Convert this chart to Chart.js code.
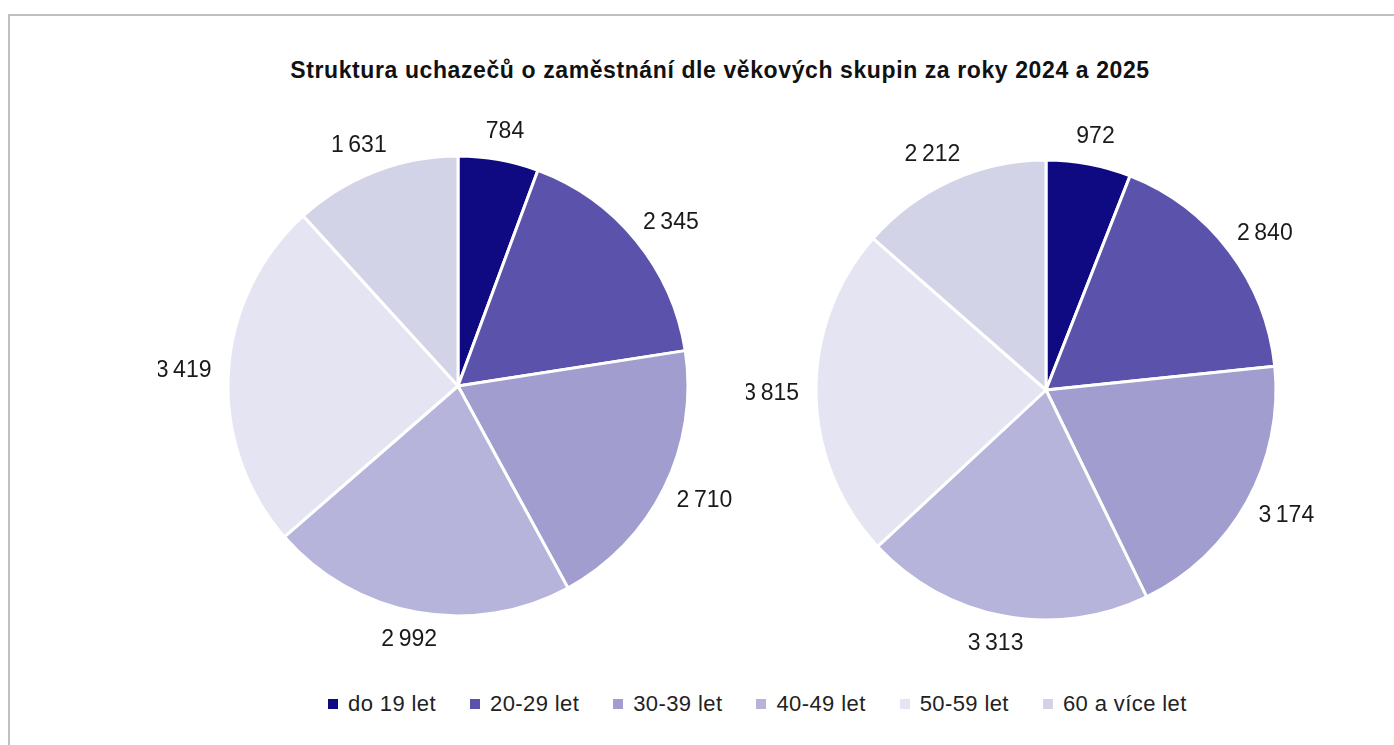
<!DOCTYPE html>
<html><head><meta charset="utf-8">
<script src="https://cdn.jsdelivr.net/npm/chart.js@4/dist/chart.umd.min.js"></script>
<style>
html,body{margin:0;padding:0;background:#fff;width:1394px;height:745px;overflow:hidden;}
#frame{position:absolute;left:8px;top:14px;width:1400px;height:760px;border:2px solid #c0c0c0;box-sizing:border-box;}
#title{position:absolute;left:0;width:1440px;top:57px;text-align:center;font-family:"Liberation Sans",sans-serif;font-weight:bold;font-size:23px;letter-spacing:0.6px;color:#111;}
canvas{position:absolute;}
#legend{position:absolute;top:691px;left:328px;display:flex;align-items:center;font-family:"Liberation Sans",sans-serif;font-size:22px;letter-spacing:0.4px;color:#222;}
#legend .it{display:flex;align-items:center;margin-right:34px;}
#legend .sw{width:10px;height:10px;margin-right:10px;}
</style></head><body>
<div id="frame"></div>
<div id="title">Struktura uchazečů o zaměstnání dle věkových skupin za roky 2024 a 2025</div>
<canvas id="c1" width="600" height="600" style="left:158px;top:86px"></canvas>
<canvas id="c2" width="600" height="600" style="left:746px;top:90px"></canvas>
<div id="legend"></div>
<script>
const categories = ["do 19 let","20-29 let","30-39 let","40-49 let","50-59 let","60 a více let"];
const values2024 = [784, 2345, 2710, 2992, 3419, 1631];
const values2025 = [972, 2840, 3174, 3313, 3815, 2212];
const colors = ["#100a82","#5a52ab","#a19ecf","#b6b4db","#e5e4f2","#d3d3e7"];

function fmt(v){
  const s = String(v);
  return s.length > 3 ? s.slice(0, s.length-3) + "\u2009" + s.slice(s.length-3) : s;
}

const outsideLabels = {
  id: 'outsideLabels',
  afterDatasetsDraw(chart){
    const ctx = chart.ctx;
    const meta = chart.getDatasetMeta(0);
    const data = chart.data.datasets[0].data;
    ctx.save();
    ctx.font = '23px "Liberation Sans", sans-serif';
    ctx.fillStyle = '#1a1a1a';
    ctx.textAlign = 'center';
    ctx.textBaseline = 'middle';
    meta.data.forEach((arc, i) => {
      const p = arc.getProps(['x','y','startAngle','endAngle','outerRadius'], true);
      const mid = (p.startAngle + p.endAngle) / 2;
      const dx = Math.cos(mid), dy = Math.sin(mid);
      const txt = fmt(data[i]);
      const hw = ctx.measureText(txt).width / 2, hh = 11;
      const gap = 17;
      const x = p.x + dx * (p.outerRadius + gap) + dx * hw;
      const y = p.y + dy * (p.outerRadius + gap) + dy * hh;
      ctx.fillText(txt, x, y);
    });
    ctx.restore();
  }
};

function makePie(id, values){
  new Chart(document.getElementById(id), {
    type: 'pie',
    data: { labels: categories, datasets: [{ data: values, backgroundColor: colors, borderColor: '#ffffff', borderWidth: 3 }] },
    options: {
      responsive: false, animation: false, radius: 230,
      plugins: { legend: { display: false }, tooltip: { enabled: false }, title: { display: false } }
    },
    plugins: [outsideLabels]
  });
}
makePie('c1', values2024);
makePie('c2', values2025);

const lg = document.getElementById('legend');
categories.forEach((c, i) => {
  const it = document.createElement('div'); it.className = 'it';
  const sw = document.createElement('div'); sw.className = 'sw'; sw.style.background = colors[i];
  const tx = document.createElement('span'); tx.textContent = c;
  it.appendChild(sw); it.appendChild(tx); lg.appendChild(it);
});
</script>
</body></html>
